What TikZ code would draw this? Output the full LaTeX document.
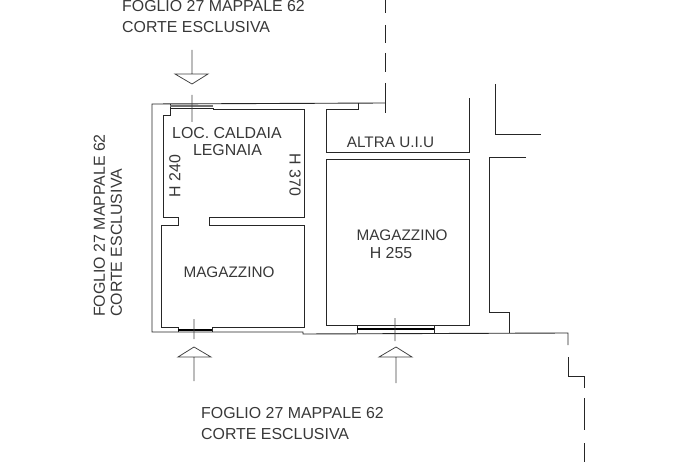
\documentclass[tikz,border=0pt]{standalone}
\usepackage{fontspec}
\setmainfont{Liberation Sans}
\tikzset{
  wall/.style={draw=black!85,line width=0.9pt,line join=miter},
  thin wall/.style={draw=black!75,line width=0.75pt},
  glass/.style={draw=black,line width=2.2pt},
  lbl/.style={inner sep=0pt,text=black!78,font=\fontsize{15.9}{18}\selectfont},
  lbm/.style={inner sep=0pt,text=black!78,font=\fontsize{15.3}{18}\selectfont}
}
\begin{document}
\begin{tikzpicture}[x=1pt,y=-1pt]
\useasboundingbox (0,0) rectangle (693,462);
% outer walls
\draw[wall] (385,103) -- (152,104) -- (152,332) -- (303,332) -- (303,334) -- (568,333) -- (568,345);
% room 1
\draw[wall] (170,104) -- (170,108) -- (213,108) -- (213,109) -- (304,109) -- (304,217) -- (209,217) -- (209,225) -- (304,225) -- (304,327) -- (212,327);
\draw[wall] (178,327) -- (161,327) -- (161,225) -- (178,225) -- (178,217) -- (163,217) -- (163,115) -- (170,115) -- (170,108);
\draw[wall] (178,327) -- (178,332) (212,327) -- (212,332);
\draw[draw=black!55,line width=1.6pt] (170,106) -- (213,106);
\draw[glass] (178,330) -- (212,330);
% altra uiu
\draw[wall] (358,103) -- (358,109) -- (326,109) -- (326,152) -- (469,152) -- (469,98);
% magazzino right
\draw[wall] (357,325) -- (326,325) -- (326,159) -- (469,159) -- (469,325) -- (434,325);
\draw[wall] (357,325) -- (357,333) (434,325) -- (434,333) (357,325) -- (434,325);
\draw[glass] (357,329) -- (434,329);
% right side
\draw[wall] (495,84) -- (495,134) -- (541,134);
\draw[wall] (526,157) -- (489,157) -- (489,312) -- (509,312) -- (509,333);
% dashed boundaries
\draw[wall] (385,0) -- (385,13) (385,25) -- (385,43) (385,53) -- (385,72) (385,83) -- (385,113);
\draw[wall] (568,357) -- (568,376) -- (584,376) -- (584,388) (584,398) -- (584,430) (584,443) -- (584,462);
% arrows
\draw[thin wall] (192,50) -- (192,74) (175,74) -- (208,74) -- (192,84) -- cycle (192,95) -- (192,122);
\draw[thin wall] (194,319) -- (194,339) (178,357) -- (211,357) -- (194,347) -- cycle (194,357) -- (194,381);
\draw[thin wall] (395,318) -- (395,341) (379,357) -- (412,357) -- (396,347) -- cycle (396,357) -- (396,383);
% labels
\node[lbl,anchor=west] (t1a) at (122,6) {FOGLIO 27 MAPPALE 62};
\node[lbl,anchor=west] (t1b) at (122,27) {CORTE ESCLUSIVA};
\node[lbl,anchor=west] (t2a) at (201,413.5) {FOGLIO 27 MAPPALE 62};
\node[lbl,anchor=west] (t2b) at (201,434) {CORTE ESCLUSIVA};
\node[lbl,rotate=90,anchor=west] (t3a) at (99.5,317) {FOGLIO 27 MAPPALE 62};
\node[lbl,rotate=90,anchor=west] (t3b) at (116.5,317) {CORTE ESCLUSIVA};
\node[lbl] (t4a) at (227,133) {LOC. CALDAIA};
\node[lbl] (t4b) at (227.5,150) {LEGNAIA};
\node[lbl,rotate=90] (t5) at (175,176) {H 240};
\node[lbl,rotate=-90] (t6) at (295,175) {H 370};
\node[lbm] (t7) at (229,272) {MAGAZZINO};
\node[lbm] (t8) at (390.5,142) {ALTRA U.I.U};
\node[lbm] (t9) at (402,235) {MAGAZZINO};
\node[lbl] (t10) at (391,253) {H 255};
\end{tikzpicture}
\end{document}
